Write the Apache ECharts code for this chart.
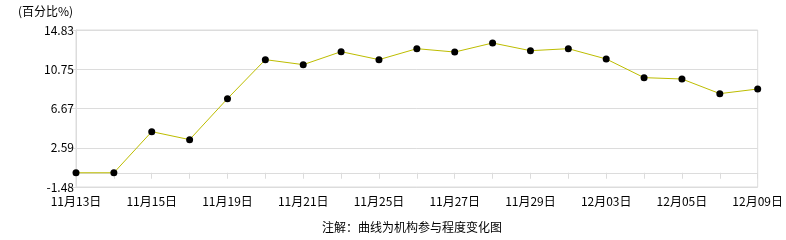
<!DOCTYPE html>
<html>
<head>
<meta charset="utf-8">
<script src="https://cdn.jsdelivr.net/npm/echarts@6/dist/echarts.min.js"></script>
<style>
html,body{margin:0;padding:0;background:#fff;}
#c{width:786px;height:240px;}
</style>
</head>
<body>
<div id="c"></div>
<script>
var categories = ['11月13日','11月14日','11月15日','11月18日','11月19日','11月20日','11月21日','11月22日','11月25日','11月26日','11月27日','11月28日','11月29日','12月02日','12月03日','12月04日','12月05日','12月06日','12月09日'];
var values = [0.0, 0.0, 4.27, 3.44, 7.70, 11.75, 11.23, 12.58, 11.75, 12.89, 12.54, 13.48, 12.68, 12.89, 11.82, 9.88, 9.74, 8.22, 8.70];
var yTicks = [-1.48, 2.59, 6.67, 10.75, 14.83];
var yTickLabels = ['-1.48', '2.59', '6.67', '10.75', '14.83'];
var yName = '(百分比%)';
var note = '注解：曲线为机构参与程度变化图';

var font = '"Noto Sans CJK SC", sans-serif';
var chart = echarts.init(document.getElementById('c'));
chart.setOption({
  animation: false,
  backgroundColor: '#fff',
  grid: {left: 76, right: 26, top: 30, bottom: 53, show: true, borderColor: '#dcdcdc', borderWidth: 1, backgroundColor: 'transparent'},
  graphic: [
    {type: 'text', left: 18, top: 5, style: {text: yName, font: '12px ' + font, fill: '#000'}},
    {type: 'text', left: 322, top: 221, style: {text: note, font: '12px ' + font, fill: '#000'}}
  ],
  xAxis: {
    type: 'category',
    data: categories,
    boundaryGap: false,
    axisLine: {lineStyle: {color: '#dcdcdc', width: 1}},
    axisTick: {show: true, interval: 0, length: 6, lineStyle: {color: '#dcdcdc'}},
    axisLabel: {interval: 1, color: '#000', fontSize: 12, fontFamily: font, margin: 8},
    splitLine: {show: false}
  },
  yAxis: {
    type: 'value',
    min: yTicks[0],
    max: yTicks[yTicks.length - 1],
    axisLine: {show: true, lineStyle: {color: '#dcdcdc', width: 1}},
    axisTick: {show: true, length: 8, lineStyle: {color: '#dcdcdc'}, customValues: yTicks},
    axisLabel: {
      color: '#000', fontSize: 12, fontFamily: font, margin: 2,
      customValues: yTicks,
      formatter: function (v) {
        for (var i = 0; i < yTicks.length; i++) { if (Math.abs(yTicks[i] - v) < 1e-6) return yTickLabels[i]; }
        return v.toFixed(2);
      }
    },
    splitLine: {show: true, lineStyle: {color: '#dcdcdc', width: 1}}
  },
  series: [{
    type: 'line',
    data: values,
    symbol: 'circle',
    symbolSize: 7,
    itemStyle: {color: '#000'},
    lineStyle: {color: '#BDBD00', width: 1},
    z: 3
  }]
});
</script>
</body>
</html>
